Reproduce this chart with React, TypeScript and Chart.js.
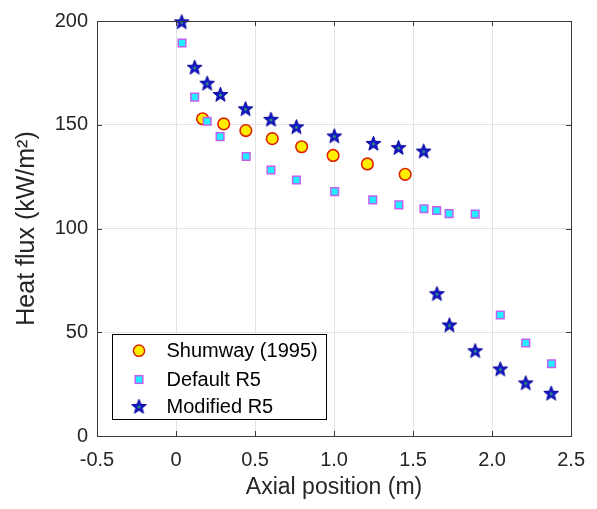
import React, { useEffect, useRef } from "react";
import { Chart, registerables } from "chart.js";

Chart.register(...registerables);

const shumwayX = [0.168, 0.302, 0.442, 0.609, 0.795, 0.994, 1.211, 1.45];
const shumwayY = [152.9, 150.4, 147.2, 143.3, 139.4, 135.2, 131.1, 126.1];

const defaultX = [0.038, 0.118, 0.197, 0.279, 0.444, 0.601, 0.762, 1.004, 1.245, 1.41, 1.569, 1.649, 1.728, 1.893, 2.052, 2.213, 2.376];
const defaultY = [189.4, 163.3, 151.7, 144.3, 134.7, 128.2, 123.4, 117.8, 113.8, 111.4, 109.5, 108.7, 107.2, 106.9, 58.3, 44.8, 34.8];

const modifiedX = [0.036, 0.118, 0.197, 0.281, 0.44, 0.601, 0.762, 1.002, 1.249, 1.408, 1.567, 1.651, 1.73, 1.893, 2.052, 2.213, 2.374];
const modifiedY = [199.6, 177.7, 170, 164.6, 157.7, 152.6, 149, 144.6, 141, 139, 137.3, 68.6, 53.5, 41.1, 32.3, 25.6, 20.6];

const seriesNames = ["Shumway (1995)", "Default R5", "Modified R5"];
const xTitle = "Axial position (m)";
const yTitle = "Heat flux (kW/m\u00B2)";

const FONT = "'Liberation Sans', Arial, Helvetica, sans-serif";
const TEXT = "#262626";

function makeStar(): HTMLCanvasElement {
  const c = document.createElement("canvas");
  const s = 17;
  c.width = s;
  c.height = s;
  const ctx = c.getContext("2d")!;
  const cx = s / 2, cy = s / 2 + 0.5;
  const R = 7.8, r = 3.3;
  ctx.beginPath();
  for (let i = 0; i < 10; i++) {
    const a = -Math.PI / 2 + (i * Math.PI) / 5;
    const rad = i % 2 === 0 ? R : r;
    const px = cx + rad * Math.cos(a);
    const py = cy + rad * Math.sin(a);
    if (i === 0) ctx.moveTo(px, py);
    else ctx.lineTo(px, py);
  }
  ctx.closePath();
  ctx.fillStyle = "#1414c8";
  ctx.fill();
  ctx.strokeStyle = "#0a0a9a";
  ctx.lineWidth = 1;
  ctx.stroke();
  ctx.beginPath();
  ctx.arc(cx, cy, 1.5, 0, Math.PI * 2);
  ctx.fillStyle = "#2a9a70";
  ctx.fill();
  return c;
}

export default function App() {
  const ref = useRef<HTMLCanvasElement | null>(null);

  useEffect(() => {
    document.body.style.margin = "0";
    const star = makeStar();
    const circleStyle = { fill: "#ffee00", stroke: "#dd2200" };
    const squareStyle = { fill: "#22eeff", stroke: "#c060f0" };

    const boxPlugin = {
      id: "matlabBox",
      afterDatasetsDraw(chart: any) {
        const { ctx, chartArea: a, scales } = chart;
        ctx.save();
        ctx.strokeStyle = "#3a3a3a";
        ctx.lineWidth = 1;
        ctx.strokeRect(Math.round(a.left) + 0.5, Math.round(a.top) + 0.5, Math.round(a.right - a.left), Math.round(a.bottom - a.top));
        const tl = 5;
        ctx.beginPath();
        scales.x.ticks.forEach((t: any) => {
          const px = Math.round(scales.x.getPixelForValue(t.value)) + 0.5;
          ctx.moveTo(px, a.bottom);
          ctx.lineTo(px, a.bottom - tl);
          ctx.moveTo(px, a.top);
          ctx.lineTo(px, a.top + tl);
        });
        scales.y.ticks.forEach((t: any) => {
          const py = Math.round(scales.y.getPixelForValue(t.value)) + 0.5;
          ctx.moveTo(a.left, py);
          ctx.lineTo(a.left + tl, py);
          ctx.moveTo(a.right, py);
          ctx.lineTo(a.right - tl, py);
        });
        ctx.stroke();

        // legend
        const lx = 112.5, ly = 334.5, lw = 214, lh = 85;
        ctx.fillStyle = "#ffffff";
        ctx.fillRect(lx, ly, lw, lh);
        ctx.strokeStyle = "#000000";
        ctx.strokeRect(lx, ly, lw, lh);
        const rows = [350.7, 379.5, 406.5];
        const mx = 139;
        ctx.font = `20px ${FONT}`;
        ctx.textBaseline = "middle";
        ctx.textAlign = "left";
        // circle
        ctx.beginPath();
        ctx.arc(mx, rows[0], 5.6, 0, Math.PI * 2);
        ctx.fillStyle = circleStyle.fill;
        ctx.fill();
        ctx.lineWidth = 1.5;
        ctx.strokeStyle = circleStyle.stroke;
        ctx.stroke();
        // square
        ctx.fillStyle = squareStyle.fill;
        ctx.fillRect(mx - 3.8, rows[1] - 3.8, 7.6, 7.6);
        ctx.strokeStyle = squareStyle.stroke;
        ctx.strokeRect(mx - 3.8, rows[1] - 3.8, 7.6, 7.6);
        // star
        ctx.drawImage(star, mx - star.width / 2, rows[2] - star.height / 2);
        ctx.fillStyle = "#000000";
        seriesNames.forEach((n, i) => ctx.fillText(n, 166.5, rows[i] + 1));
        ctx.restore();
      },
    };

    const chart = new Chart(ref.current!, {
      type: "scatter",
      data: {
        datasets: [
          {
            label: seriesNames[0],
            data: shumwayX.map((x, i) => ({ x, y: shumwayY[i] })),
            pointStyle: "circle",
            pointRadius: 5.8,
            pointBorderWidth: 1.6,
            backgroundColor: circleStyle.fill,
            borderColor: circleStyle.stroke,
            order: 2,
            clip: false,
          },
          {
            label: seriesNames[1],
            data: defaultX.map((x, i) => ({ x, y: defaultY[i] })),
            pointStyle: "rect",
            pointRadius: 5.4,
            pointBorderWidth: 1.5,
            backgroundColor: squareStyle.fill,
            borderColor: squareStyle.stroke,
            order: 1,
            clip: false,
          },
          {
            label: seriesNames[2],
            data: modifiedX.map((x, i) => ({ x, y: modifiedY[i] })),
            pointStyle: star as any,
            pointRadius: 8,
            backgroundColor: "#1414c8",
            borderColor: "#0a0a9a",
            order: 0,
            clip: false,
          },
        ],
      },
      options: {
        responsive: false,
        animation: false,
        events: [],
        layout: { padding: { top: 19, right: 22, left: 0, bottom: 0 } },
        plugins: { legend: { display: false }, tooltip: { enabled: false } },
        scales: {
          x: {
            type: "linear",
            min: -0.5,
            max: 2.5,
            afterFit: (s: any) => {
              s.height = 73;
            },
            ticks: {
              stepSize: 0.5,
              autoSkip: false,
              maxRotation: 0,
              padding: 12,
              color: TEXT,
              font: { family: FONT, size: 20 },
            },
            grid: { color: "#e3e3e3", drawTicks: false },
            border: { display: false },
            title: {
              display: true,
              text: xTitle,
              color: TEXT,
              font: { family: FONT, size: 23 },
              padding: { top: 0, bottom: 8 },
            },
          },
          y: {
            type: "linear",
            min: 0,
            max: 200,
            afterFit: (s: any) => {
              s.width = 97;
            },
            ticks: {
              stepSize: 50,
              autoSkip: false,
              padding: 9,
              color: TEXT,
              font: { family: FONT, size: 20 },
            },
            grid: { color: "#e3e3e3", drawTicks: false },
            border: { display: false },
            title: {
              display: true,
              text: yTitle,
              color: TEXT,
              font: { family: FONT, size: 25 },
              padding: { top: 12, bottom: 0 },
            },
          },
        },
      },
      plugins: [boxPlugin],
    });
    return () => chart.destroy();
  }, []);

  return (
    <div style={{ width: 597, height: 509 }}>
      <canvas ref={ref} width={597} height={509} />
    </div>
  );
}
